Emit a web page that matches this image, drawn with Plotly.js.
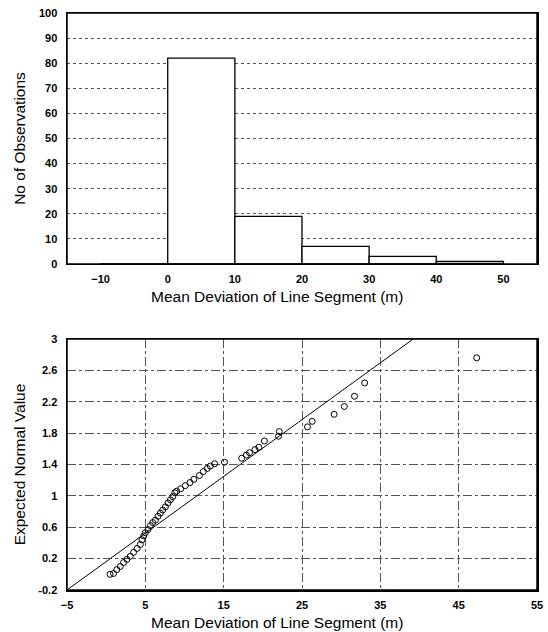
<!DOCTYPE html>
<html>
<head>
<meta charset="utf-8">
<script src="https://cdn.plot.ly/plotly-3.0.1.min.js"></script>
<style>
  html, body { margin: 0; padding: 0; background: #fff; }
  #chart { width: 548px; height: 632px; }
</style>
</head>
<body>
<div id="chart"></div>
<script>
// Histogram data
var binStarts = [-10, 0, 10, 20, 30, 40];
var binCounts = [0, 82, 19, 7, 3, 1];

// Normal probability plot data
var devX = [0.5, 0.94, 1.36, 1.8, 2.22, 2.65, 3.08, 3.5, 3.95, 4.36, 4.57, 4.79, 5.0, 5.34, 5.64, 5.94, 6.28, 6.62, 6.92, 7.22, 7.56, 7.9, 8.2, 8.5, 8.76,
            9.0, 9.5, 10.1, 10.7, 11.2, 11.9, 12.4, 12.9, 13.3, 13.85, 15.1,
            17.3, 17.9, 18.3, 19.0, 19.5, 20.2, 22.0, 22.1, 25.7, 26.3, 29.1, 30.4, 31.7, 33.0, 47.3];
var expNormal = [0.0, 0.01, 0.06, 0.10, 0.15, 0.19, 0.23, 0.28, 0.33, 0.38, 0.44, 0.49, 0.53, 0.57, 0.62, 0.66, 0.69, 0.74, 0.78, 0.82, 0.86, 0.91, 0.95, 0.99, 1.04,
                 1.06, 1.09, 1.13, 1.17, 1.21, 1.26, 1.31, 1.35, 1.38, 1.41, 1.43,
                 1.48, 1.52, 1.55, 1.59, 1.62, 1.70, 1.76, 1.82, 1.88, 1.95, 2.04, 2.14, 2.27, 2.44, 2.76];

// Reference line
var refLineX = [-5, 39.2];
var refLineY = [-0.2, 3.0];

var topTicks = [-10, 0, 10, 20, 30, 40, 50];
var botXTicks = [-5, 5, 15, 25, 35, 45, 55];
var botYTicks = [-0.2, 0.2, 0.6, 1, 1.4, 1.8, 2.2, 2.6, 3];
var botYLabels = ['-0.2', '0.2', '0.6', '1', '1.4', '1.8', '2.2', '2.6', '3'];

var xTitleText = 'Mean Deviation of Line Segment (m)';

var fontFam = 'Arial, "Liberation Sans", sans-serif';
var tickFont = {family: fontFam, size: 11, color: '#000', weight: 700};
var titleFont = {family: fontFam, size: 15.5, color: '#000'};

var traces = [
  {
    type: 'bar',
    x: binStarts,
    y: binCounts,
    width: 10,
    offset: 0,
    marker: {color: '#fff', line: {color: '#000', width: 1.3}},
    xaxis: 'x', yaxis: 'y',
    hoverinfo: 'x+y'
  },
  {
    type: 'scatter',
    mode: 'lines',
    x: refLineX,
    y: refLineY,
    line: {color: '#000', width: 1},
    xaxis: 'x2', yaxis: 'y2',
    cliponaxis: true
  },
  {
    type: 'scatter',
    mode: 'markers',
    x: devX,
    y: expNormal,
    marker: {symbol: 'circle-open', size: 6, color: '#000', line: {width: 1, color: '#000'}},
    xaxis: 'x2', yaxis: 'y2'
  }
];

var layout = {
  width: 548, height: 632,
  margin: {l: 67, r: 11, t: 13, b: 42},
  paper_bgcolor: '#fff', plot_bgcolor: '#fff',
  showlegend: false,
  font: {family: fontFam, color: '#000'},
  bargap: 0,
  xaxis: {
    domain: [0, 1], anchor: 'y',
    range: [-15, 55],
    tickvals: topTicks,
    ticks: '', showgrid: false, zeroline: false,
    showline: true, mirror: 'all', linecolor: '#000000', linewidth: 1.5,
    tickfont: tickFont, ticklabelstandoff: 4
  },
  yaxis: {
    domain: [0.565, 1], anchor: 'x',
    range: [0, 100], dtick: 10, tick0: 0,
    ticks: '', showgrid: true, zeroline: false,
    gridcolor: '#555', griddash: 'dot', gridwidth: 1,
    showline: true, mirror: 'all', linecolor: '#000000', linewidth: 1.5,
    tickfont: tickFont, ticklabelstandoff: 6,
    title: {text: 'No of Observations', font: titleFont, standoff: 9}
  },
  xaxis2: {
    domain: [0, 1], anchor: 'y2',
    range: [-5, 55],
    tickvals: botXTicks,
    ticks: '', showgrid: true, zeroline: false,
    gridcolor: '#555', griddash: 'dashdot', gridwidth: 1,
    showline: true, mirror: 'all', linecolor: '#000000', linewidth: 1.5,
    tickfont: tickFont, ticklabelstandoff: 4
  },
  yaxis2: {
    domain: [0, 0.435], anchor: 'x2',
    range: [-0.2, 3],
    tickvals: botYTicks, ticktext: botYLabels,
    ticks: '', showgrid: true, zeroline: false,
    gridcolor: '#555', griddash: 'dashdot', gridwidth: 1,
    showline: true, mirror: 'all', linecolor: '#000000', linewidth: 1.5,
    tickfont: tickFont, ticklabelstandoff: 6,
    title: {text: 'Expected Normal Value', font: titleFont, standoff: 9}
  },
  annotations: [
    {text: xTitleText, xref: 'paper', yref: 'paper', x: 0.447, y: 0.508,
     xanchor: 'center', yanchor: 'middle', showarrow: false, font: titleFont},
    {text: xTitleText, xref: 'paper', yref: 'paper', x: 0.447, y: -0.0555,
     xanchor: 'center', yanchor: 'middle', showarrow: false, font: titleFont}
  ],
  shapes: [
    {type: 'rect', xref: 'paper', yref: 'paper', x0: 0, x1: 1, y0: 0.565, y1: 1,
     line: {color: '#000000', width: 1.5}, fillcolor: 'rgba(0,0,0,0)', layer: 'above'},
    {type: 'rect', xref: 'paper', yref: 'paper', x0: 0, x1: 1, y0: 0, y1: 0.435,
     line: {color: '#000000', width: 1.5}, fillcolor: 'rgba(0,0,0,0)', layer: 'above'}
  ]
};

Plotly.newPlot('chart', traces, layout, {displayModeBar: false, staticPlot: true});
</script>
</body>
</html>
